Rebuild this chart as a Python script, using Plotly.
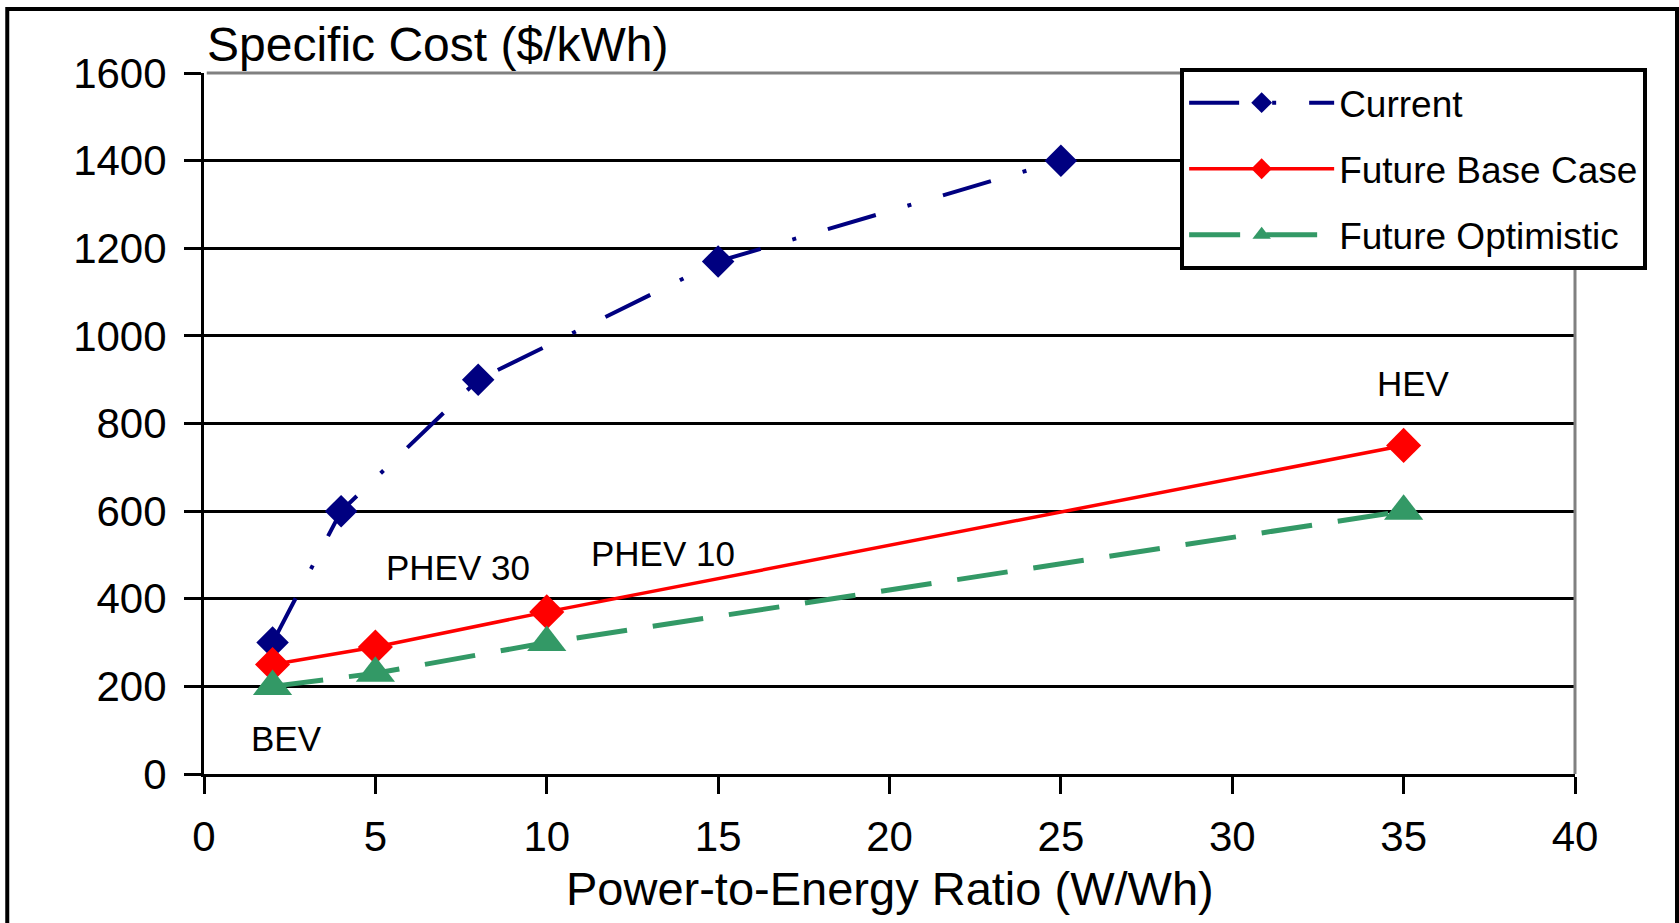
import plotly.graph_objects as go

# ---- data ----
current_x = [2, 4, 8, 15, 25]
current_y = [300, 600, 900, 1170, 1400]

base_x = [2, 5, 10, 35]
base_y = [250, 290, 370, 750]

opt_x = [2, 5, 10, 35]
opt_y = [200, 230, 300, 600]

x_ticks = [0, 5, 10, 15, 20, 25, 30, 35, 40]
y_ticks = [0, 200, 400, 600, 800, 1000, 1200, 1400, 1600]

labels = ["BEV", "PHEV 30", "PHEV 10", "HEV"]
label_x = [2.4, 7.4, 13.4, 35.3]
label_y = [80, 471, 503, 891]

FONT = "Liberation Sans, Arial, sans-serif"

fig = go.Figure()
fig.add_trace(go.Scatter(
    x=current_x, y=current_y, name="Current", mode="lines+markers",
    line=dict(color="#000080", width=4, dash="50px,33px,4px,33px"),
    marker=dict(symbol="diamond", size=25, color="#000080"),
    legendgroup="a"))
fig.add_trace(go.Scatter(
    x=base_x, y=base_y, name="Future Base Case", mode="lines+markers",
    line=dict(color="#FF0000", width=3.5),
    marker=dict(symbol="diamond", size=27, color="#FF0000"),
    legendgroup="b"))
fig.add_trace(go.Scatter(
    x=opt_x, y=opt_y, name="Future Optimistic", mode="lines+markers",
    line=dict(color="#339966", width=5, dash="51px,26px"),
    marker=dict(symbol="triangle-up", size=34, color="#339966"),
    legendgroup="c"))

annotations = []
for t, ax_, ay_ in zip(labels, label_x, label_y):
    annotations.append(dict(x=ax_, y=ay_, xref="x", yref="y", text=t,
                            showarrow=False, font=dict(family=FONT, size=35, color="black")))
annotations.append(dict(x=0.001, y=1.04, xref="paper", yref="paper",
                        text="Specific Cost ($/kWh)", showarrow=False,
                        xanchor="left", yanchor="middle",
                        font=dict(family=FONT, size=48, color="black")))
annotations.append(dict(x=0.5, y=-0.163, xref="paper", yref="paper",
                        text="Power-to-Energy Ratio (W/Wh)", showarrow=False,
                        xanchor="center", yanchor="middle",
                        font=dict(family=FONT, size=47, color="black")))

shapes = [
    # plot area top and right border (gray)
    dict(type="line", xref="paper", yref="paper", x0=0.002, x1=1, y0=1, y1=1,
         line=dict(color="#808080", width=3), layer="above"),
    dict(type="line", xref="paper", yref="paper", x0=1, x1=1, y0=0, y1=1,
         line=dict(color="#808080", width=3), layer="above"),
    # outer frame
    dict(type="rect", xref="paper", yref="paper", x0=-0.1435, x1=1.0744,
         y0=-0.25, y1=1.0913, line=dict(color="black", width=4), layer="below"),
]

fig.update_layout(
    width=1679, height=923,
    margin=dict(l=204, r=104, t=73, b=149),
    paper_bgcolor="white", plot_bgcolor="white",
    showlegend=True,
    legend=dict(x=0.712, y=1.007, xanchor="left", yanchor="top",
                bgcolor="white", bordercolor="black", borderwidth=4,
                font=dict(family=FONT, size=37, color="black"),
                itemwidth=145, tracegroupgap=15, traceorder="grouped"),
    annotations=annotations,
    shapes=shapes,
    hovermode=False,
)
fig.update_xaxes(range=[0, 40], tickvals=x_ticks, ticktext=[str(v) for v in x_ticks],
                 showgrid=False, zeroline=False,
                 showline=True, linecolor="black", linewidth=3,
                 ticks="outside", ticklen=17, tickwidth=3, tickcolor="black",
                 tickfont=dict(family=FONT, size=42, color="black"),
                 ticklabelstandoff=7)
fig.update_yaxes(range=[0, 1600], tickvals=y_ticks, ticktext=[str(v) for v in y_ticks],
                 showgrid=True, gridcolor="black", gridwidth=3, zeroline=False,
                 showline=True, linecolor="black", linewidth=3,
                 ticks="outside", ticklen=17, tickwidth=3, tickcolor="black",
                 tickfont=dict(family=FONT, size=42, color="black"),
                 ticklabelstandoff=9)

fig.write_html("out.html", config={"displayModeBar": False})
